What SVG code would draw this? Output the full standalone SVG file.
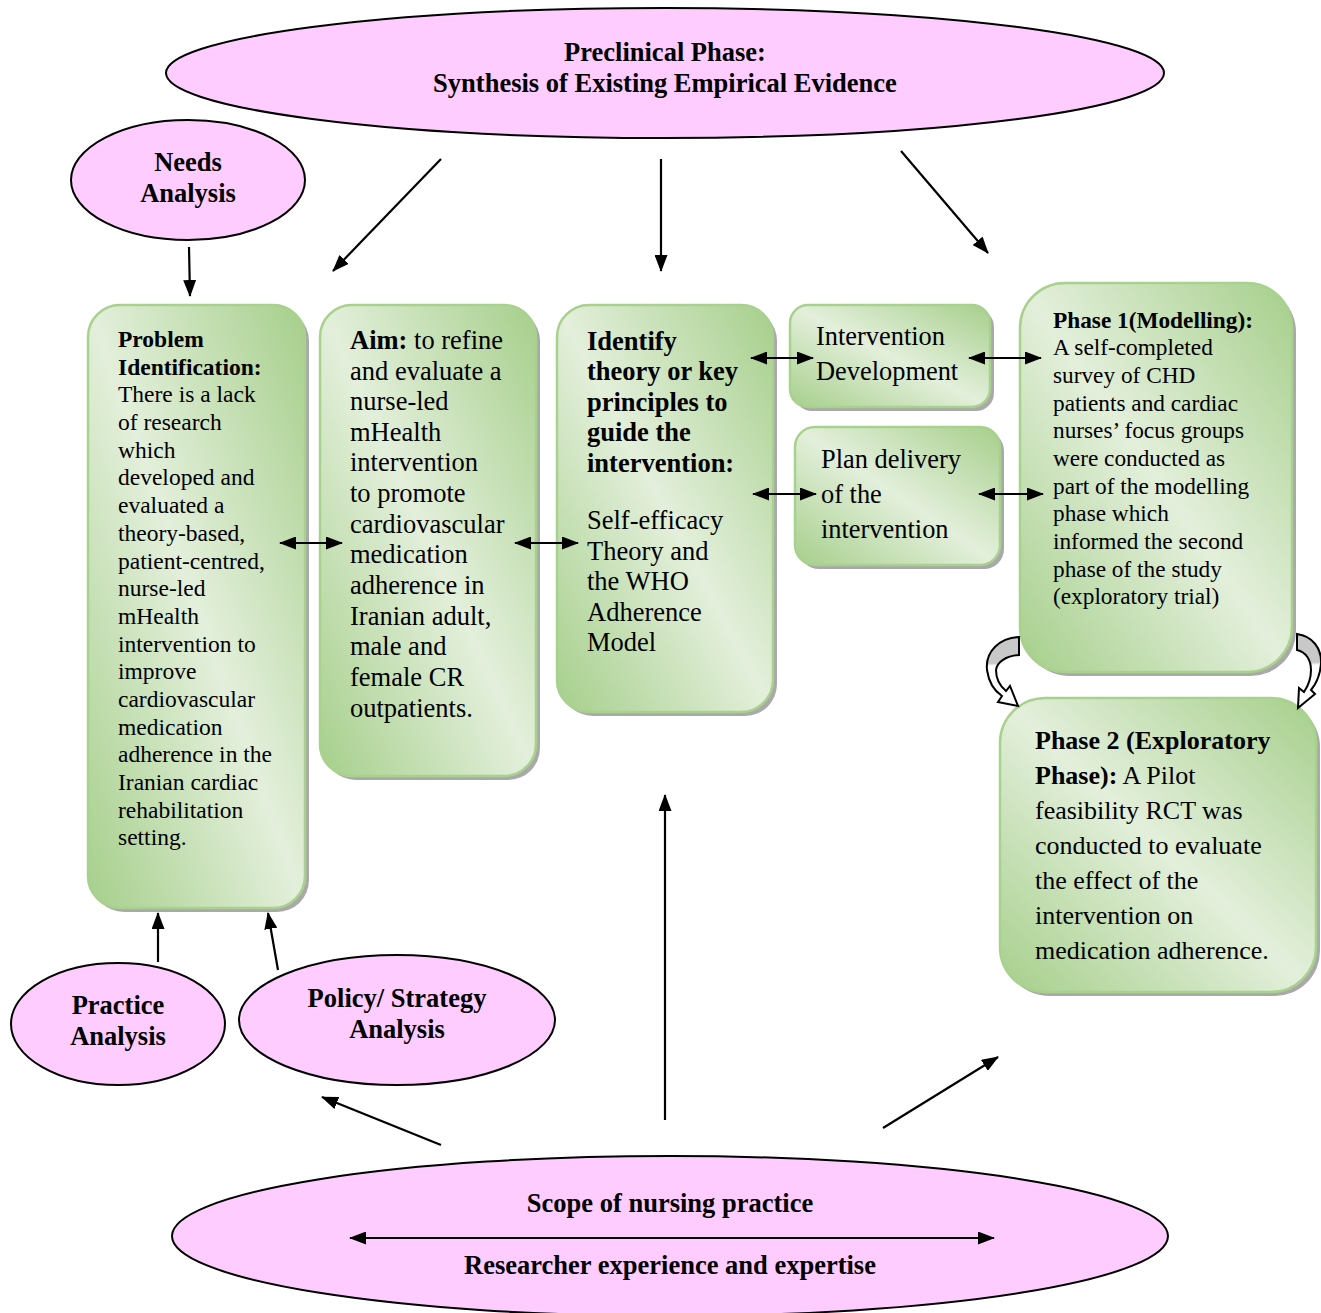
<svg xmlns="http://www.w3.org/2000/svg" width="1321" height="1313" viewBox="0 0 1321 1313">
<defs>
<style>
.ell{fill:#ffccff;stroke:#000;stroke-width:2}
.box{fill:url(#g);stroke:#a9d18e;stroke-width:2.5}
.sh{fill:#8c8c8c;opacity:.75}
.t{font-family:"Liberation Serif","Times New Roman",serif;fill:#000}
.b{font-weight:bold}
.c{text-anchor:middle}
.ln{stroke:#000;stroke-width:2.2;fill:none}
.ca{stroke:#000;stroke-width:2;fill:url(#cg)}
</style>
<linearGradient id="g" x1="0" y1="1" x2="1" y2="0">
<stop offset="0" stop-color="#a6cf8b"/>
<stop offset="0.5" stop-color="#e3efdb"/>
<stop offset="1" stop-color="#a6cf8b"/>
</linearGradient>
<linearGradient id="cg" x1="0" y1="0" x2="0" y2="1">
<stop offset="0" stop-color="#c8c8c8"/>
<stop offset="0.38" stop-color="#c8c8c8"/>
<stop offset="0.42" stop-color="#fff"/>
<stop offset="1" stop-color="#fff"/>
</linearGradient>
<marker id="ah" markerUnits="userSpaceOnUse" markerWidth="17" markerHeight="13" refX="16" refY="6.5" orient="auto-start-reverse">
<path d="M0,0 L17,6.5 L0,13 z" fill="#000"/>
</marker>
</defs>
<rect width="1321" height="1313" fill="#fff"/>

<g id="preclinical">
<ellipse class="ell" cx="665" cy="73" rx="499" ry="65"/>
<text class="t b c" font-size="26.5" x="665" y="61">Preclinical Phase:</text>
<text class="t b c" font-size="26.5" x="665" y="92">Synthesis of Existing Empirical Evidence</text>
</g>

<g id="needs">
<ellipse class="ell" cx="188" cy="180" rx="117" ry="60"/>
<text class="t b c" font-size="26.5" x="188" y="171">Needs</text>
<text class="t b c" font-size="26.5" x="188" y="202">Analysis</text>
</g>

<g id="practice">
<ellipse class="ell" cx="118" cy="1024" rx="107" ry="61"/>
<text class="t b c" font-size="26.5" x="118" y="1014">Practice</text>
<text class="t b c" font-size="26.5" x="118" y="1045">Analysis</text>
</g>

<g id="policy">
<ellipse class="ell" cx="397" cy="1020" rx="158" ry="65"/>
<text class="t b c" font-size="26.5" x="397" y="1007">Policy/ Strategy</text>
<text class="t b c" font-size="26.5" x="397" y="1038">Analysis</text>
</g>

<g id="scope">
<ellipse class="ell" cx="670" cy="1236" rx="498" ry="80"/>
<text class="t b c" font-size="26.5" x="670" y="1212">Scope of nursing practice</text>
<text class="t b c" font-size="26.5" x="670" y="1274">Researcher experience and expertise</text>
</g>

<g id="problem">
<rect class="sh" x="92" y="309" width="217" height="603" rx="32"/>
<rect class="box" x="88" y="305" width="217" height="603" rx="32"/>
<text class="t" font-size="23.5" x="118">
<tspan class="b" x="118" y="347">Problem</tspan>
<tspan class="b" x="118" y="375">Identification:</tspan>
<tspan x="118" y="402">There is a lack</tspan>
<tspan x="118" y="430">of research</tspan>
<tspan x="118" y="458">which</tspan>
<tspan x="118" y="485">developed and</tspan>
<tspan x="118" y="513">evaluated a</tspan>
<tspan x="118" y="541">theory-based,</tspan>
<tspan x="118" y="569">patient-centred,</tspan>
<tspan x="118" y="596">nurse-led</tspan>
<tspan x="118" y="624">mHealth</tspan>
<tspan x="118" y="652">intervention to</tspan>
<tspan x="118" y="679">improve</tspan>
<tspan x="118" y="707">cardiovascular</tspan>
<tspan x="118" y="735">medication</tspan>
<tspan x="118" y="762">adherence in the</tspan>
<tspan x="118" y="790">Iranian cardiac</tspan>
<tspan x="118" y="818">rehabilitation</tspan>
<tspan x="118" y="845">setting.</tspan>
</text>
</g>

<g id="aim">
<rect class="sh" x="324" y="309" width="216" height="471" rx="32"/>
<rect class="box" x="320" y="305" width="216" height="471" rx="32"/>
<text class="t" font-size="26.5">
<tspan x="350" y="349"><tspan class="b">Aim:</tspan> to refine</tspan>
<tspan x="350" y="380">and evaluate a</tspan>
<tspan x="350" y="410">nurse-led</tspan>
<tspan x="350" y="441">mHealth</tspan>
<tspan x="350" y="471">intervention</tspan>
<tspan x="350" y="502">to promote</tspan>
<tspan x="350" y="533">cardiovascular</tspan>
<tspan x="350" y="563">medication</tspan>
<tspan x="350" y="594">adherence in</tspan>
<tspan x="350" y="625">Iranian adult,</tspan>
<tspan x="350" y="655">male and</tspan>
<tspan x="350" y="686">female CR</tspan>
<tspan x="350" y="717">outpatients.</tspan>
</text>
</g>

<g id="theory">
<rect class="sh" x="561" y="309" width="216" height="407" rx="32"/>
<rect class="box" x="557" y="305" width="216" height="407" rx="32"/>
<text class="t" font-size="26.5">
<tspan class="b" x="587" y="350">Identify</tspan>
<tspan class="b" x="587" y="380">theory or key</tspan>
<tspan class="b" x="587" y="411">principles to</tspan>
<tspan class="b" x="587" y="441">guide the</tspan>
<tspan class="b" x="587" y="472">intervention:</tspan>
<tspan x="587" y="529">Self-efficacy</tspan>
<tspan x="587" y="560">Theory and</tspan>
<tspan x="587" y="590">the WHO</tspan>
<tspan x="587" y="621">Adherence</tspan>
<tspan x="587" y="651">Model</tspan>
</text>
</g>

<g id="development">
<rect class="sh" x="794" y="309" width="200" height="102" rx="18"/>
<rect class="box" x="790" y="305" width="200" height="102" rx="18"/>
<text class="t" font-size="26.4">
<tspan x="816" y="345">Intervention</tspan>
<tspan x="816" y="380">Development</tspan>
</text>
</g>

<g id="delivery">
<rect class="sh" x="799" y="431" width="205" height="138" rx="20"/>
<rect class="box" x="795" y="427" width="205" height="138" rx="20"/>
<text class="t" font-size="26.4">
<tspan x="821" y="468">Plan delivery</tspan>
<tspan x="821" y="503">of the</tspan>
<tspan x="821" y="538">intervention</tspan>
</text>
</g>

<g id="phase1">
<rect class="sh" x="1024" y="287" width="272" height="389" rx="45"/>
<rect class="box" x="1020" y="283" width="272" height="389" rx="45"/>
<text class="t" font-size="23.3">
<tspan class="b" x="1053" y="328">Phase 1(Modelling):</tspan>
<tspan x="1053" y="355">A self-completed</tspan>
<tspan x="1053" y="383">survey of CHD</tspan>
<tspan x="1053" y="411">patients and cardiac</tspan>
<tspan x="1053" y="438">nurses’ focus groups</tspan>
<tspan x="1053" y="466">were conducted as</tspan>
<tspan x="1053" y="494">part of the modelling</tspan>
<tspan x="1053" y="521">phase which</tspan>
<tspan x="1053" y="549">informed the second</tspan>
<tspan x="1053" y="577">phase of the study</tspan>
<tspan x="1053" y="604">(exploratory trial)</tspan>
</text>
</g>

<g id="phase2">
<rect class="sh" x="1004" y="702" width="316" height="294" rx="45"/>
<rect class="box" x="1000" y="698" width="316" height="294" rx="45"/>
<text class="t" font-size="26">
<tspan class="b" x="1035" y="749">Phase 2 (Exploratory</tspan>
<tspan x="1035" y="784"><tspan class="b">Phase):</tspan> A Pilot</tspan>
<tspan x="1035" y="819">feasibility RCT was</tspan>
<tspan x="1035" y="854">conducted to evaluate</tspan>
<tspan x="1035" y="889">the effect of the</tspan>
<tspan x="1035" y="924">intervention on</tspan>
<tspan x="1035" y="959">medication adherence.</tspan>
</text>
</g>

<g id="connectors">
<line class="ln" x1="441" y1="159" x2="333" y2="271" marker-end="url(#ah)"/>
<line class="ln" x1="661" y1="159" x2="661" y2="271" marker-end="url(#ah)"/>
<line class="ln" x1="901" y1="151" x2="988" y2="253" marker-end="url(#ah)"/>
<line class="ln" x1="189" y1="247" x2="190" y2="296" marker-end="url(#ah)"/>
<line class="ln" x1="158" y1="962" x2="158" y2="913" marker-end="url(#ah)"/>
<line class="ln" x1="278" y1="970" x2="268" y2="913" marker-end="url(#ah)"/>
<line class="ln" x1="441" y1="1145" x2="322" y2="1097" marker-end="url(#ah)"/>
<line class="ln" x1="665" y1="1120" x2="665" y2="795" marker-end="url(#ah)"/>
<line class="ln" x1="883" y1="1128" x2="998" y2="1057" marker-end="url(#ah)"/>
<line class="ln" x1="280" y1="543" x2="342" y2="543" marker-start="url(#ah)" marker-end="url(#ah)"/>
<line class="ln" x1="515" y1="543" x2="578" y2="543" marker-start="url(#ah)" marker-end="url(#ah)"/>
<line class="ln" x1="751" y1="358" x2="813" y2="358" marker-start="url(#ah)" marker-end="url(#ah)"/>
<line class="ln" x1="969" y1="358" x2="1041" y2="358" marker-start="url(#ah)" marker-end="url(#ah)"/>
<line class="ln" x1="753" y1="494" x2="816" y2="494" marker-start="url(#ah)" marker-end="url(#ah)"/>
<line class="ln" x1="979" y1="494" x2="1043" y2="494" marker-start="url(#ah)" marker-end="url(#ah)"/>
<line class="ln" x1="350" y1="1238" x2="994" y2="1238" marker-start="url(#ah)" marker-end="url(#ah)"/>
<path class="ca" d="M1019,637 C1000,638 985,651 987,670 C989,684 996,692 1002,696 L998,702 L1018,706 L1010,686 L1006,691 C1000,686 996,678 996,670 C997,662 1006,656 1019,655 Z"/>
<path class="ca" d="M1297,634 C1312,636 1322,648 1321,664 C1320,676 1316,684 1311,690 L1315,694 L1298,708 L1299,688 L1304,692 C1308,686 1311,678 1311,670 C1311,660 1306,652 1297,650 Z"/>
</g>
</svg>
